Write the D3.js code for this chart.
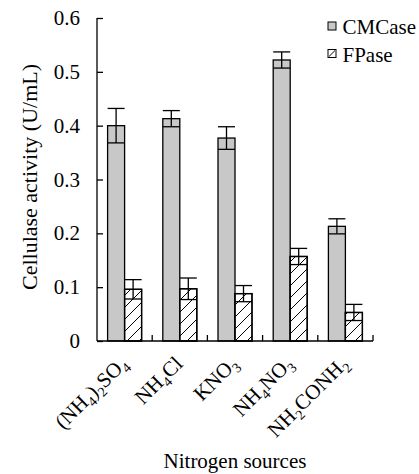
<!DOCTYPE html>
<html lang="en">
<head>
<meta charset="utf-8">
<title>Cellulase activity by nitrogen source</title>
<script src="https://d3js.org/d3.v7.min.js"></script>
<style>
  body { margin: 0; background: #fff; }
  text { font-family: "Liberation Serif", "Times New Roman", serif; fill: #000; }
</style>
</head>
<body>
<script>
// categories, label pieces: [text, isSubscript]
var sources = ["(NH4)2SO4", "NH4Cl", "KNO3", "NH4NO3", "NH2CONH2"];
var sourceLabels = [
  [["(NH", 0], ["4", 1], [")", 0], ["2", 1], ["SO", 0], ["4", 1]],
  [["NH", 0], ["4", 1], ["Cl", 0]],
  [["KNO", 0], ["3", 1]],
  [["NH", 0], ["4", 1], ["NO", 0], ["3", 1]],
  [["NH", 0], ["2", 1], ["CONH", 0], ["2", 1]]
];
var seriesNames = ["CMCase", "FPase"];
var cmcase = [0.400, 0.413, 0.377, 0.522, 0.213];
var cmcaseErr = [0.032, 0.015, 0.021, 0.015, 0.014];
var fpase = [0.096, 0.097, 0.088, 0.157, 0.053];
var fpaseErr = [0.018, 0.020, 0.015, 0.015, 0.015];
var yTicks = [0, 0.1, 0.2, 0.3, 0.4, 0.5, 0.6];

var width = 419, height = 474;
var plotLeft = 97, plotRight = 373, plotTop = 18, plotBottom = 341;
var fontSize = 21;

var svg = d3.select("body").append("svg")
  .attr("width", width)
  .attr("height", height);

var defs = svg.append("defs");
defs.append("pattern")
  .attr("id", "hatch")
  .attr("patternUnits", "userSpaceOnUse")
  .attr("width", 12).attr("height", 12)
  .append("path")
  .attr("d", "M0,12 L12,0 M-3,3 L3,-3 M9,15 L15,9")
  .attr("stroke", "#000")
  .attr("stroke-width", 1);
defs.append("pattern")
  .attr("id", "hatchSmall")
  .attr("patternUnits", "userSpaceOnUse")
  .attr("width", 8).attr("height", 8)
  .append("path")
  .attr("d", "M1,7 L7,1")
  .attr("stroke", "#000")
  .attr("stroke-width", 1);

var x = d3.scaleBand().domain(sources).range([plotLeft, plotRight]);
var barW = 17;
var x1 = d3.scaleBand().domain(seriesNames).range([0, 2 * barW]);
var y = d3.scaleLinear().domain([0, 0.6]).range([plotBottom, plotTop]);

var fills = { "CMCase": "#c8c8c8", "FPase": "url(#hatch)" };

var data = [];
sources.forEach(function(s, i) {
  data.push({ src: s, series: "CMCase", v: cmcase[i], e: cmcaseErr[i] });
  data.push({ src: s, series: "FPase", v: fpase[i], e: fpaseErr[i] });
});

function barX(d) {
  return x(d.src) + (x.bandwidth() - 2 * barW) / 2 + x1(d.series);
}

// bars (white under the hatch)
svg.selectAll(".bar")
  .data(data)
  .enter().append("rect")
  .attr("class", "bar")
  .attr("x", barX)
  .attr("y", function(d) { return y(d.v); })
  .attr("width", barW)
  .attr("height", function(d) { return y(0) - y(d.v); })
  .attr("fill", function(d) { return d.series == "FPase" ? "#fff" : fills[d.series]; })
  .attr("stroke", "#000")
  .attr("stroke-width", 1.3);
svg.selectAll(".hatchbar")
  .data(data.filter(function(d) { return d.series == "FPase"; }))
  .enter().append("rect")
  .attr("x", barX)
  .attr("y", function(d) { return y(d.v); })
  .attr("width", barW)
  .attr("height", function(d) { return y(0) - y(d.v); })
  .attr("fill", "url(#hatch)")
  .attr("stroke", "#000")
  .attr("stroke-width", 1.3);

// error bars
var err = svg.selectAll(".err")
  .data(data)
  .enter().append("g")
  .attr("class", "err")
  .attr("stroke", "#000")
  .attr("stroke-width", 1.3);
err.append("line")
  .attr("x1", function(d) { return barX(d) + barW / 2; })
  .attr("x2", function(d) { return barX(d) + barW / 2; })
  .attr("y1", function(d) { return y(d.v - d.e); })
  .attr("y2", function(d) { return y(d.v + d.e); });
err.append("line")
  .attr("x1", function(d) { return barX(d); })
  .attr("x2", function(d) { return barX(d) + barW; })
  .attr("y1", function(d) { return y(d.v + d.e); })
  .attr("y2", function(d) { return y(d.v + d.e); });
err.append("line")
  .attr("x1", function(d) { return barX(d); })
  .attr("x2", function(d) { return barX(d) + barW; })
  .attr("y1", function(d) { return y(d.v - d.e); })
  .attr("y2", function(d) { return y(d.v - d.e); });

// y axis, ticks point inward
var yAxis = svg.append("g")
  .attr("transform", "translate(" + plotLeft + ",0)")
  .call(d3.axisRight(y).tickValues(yTicks).tickSize(6).tickFormat(""));
yAxis.select(".domain").attr("d", "M0," + plotTop + "V" + plotBottom);
yAxis.selectAll("line, path").attr("stroke", "#000").attr("stroke-width", 1.3);

svg.selectAll(".ylab")
  .data(yTicks)
  .enter().append("text")
  .attr("x", plotLeft - 17)
  .attr("y", function(d) { return y(d); })
  .attr("dy", "0.34em")
  .attr("text-anchor", "end")
  .style("font-size", fontSize + "px")
  .text(function(d) { return d == 0 ? "0" : d3.format(".1f")(d); });

// x axis with ticks at band edges, pointing up
var edges = sources.map(function(s) { return x(s); }).concat([plotRight]);
var xAxis = svg.append("g");
xAxis.append("line")
  .attr("x1", plotLeft).attr("x2", plotRight)
  .attr("y1", plotBottom).attr("y2", plotBottom)
  .attr("stroke", "#000").attr("stroke-width", 1.3);
xAxis.selectAll(".xt")
  .data(edges.slice(1))
  .enter().append("line")
  .attr("x1", function(d) { return d; })
  .attr("x2", function(d) { return d; })
  .attr("y1", plotBottom).attr("y2", plotBottom - 6)
  .attr("stroke", "#000").attr("stroke-width", 1.3);

// category labels with subscripts
var xl = svg.selectAll(".xlab")
  .data(sources)
  .enter().append("text")
  .attr("class", "xlab")
  .attr("text-anchor", "end")
  .style("font-size", fontSize + "px")
  .attr("transform", function(d) {
    return "translate(" + (x(d) + x.bandwidth() / 2 + 4) + "," + (plotBottom + 24) + ") rotate(-45)";
  });
xl.each(function(d, i) {
  var t = d3.select(this);
  var shift = 0;
  sourceLabels[i].forEach(function(p) {
    var dy = p[1] ? 5 - shift : 0 - shift;
    shift += dy;
    t.append("tspan")
      .attr("dy", dy)
      .style("font-size", p[1] ? "14px" : fontSize + "px")
      .text(p[0]);
  });
});

// axis titles
svg.append("text")
  .attr("transform", "translate(37,177) rotate(-90)")
  .attr("text-anchor", "middle")
  .style("font-size", "22px")
  .text("Cellulase activity (U/mL)");

svg.append("text")
  .attr("x", (plotLeft + plotRight) / 2)
  .attr("y", 468)
  .attr("text-anchor", "middle")
  .style("font-size", fontSize + "px")
  .text("Nitrogen sources");

// legend
var legend = svg.selectAll(".legend")
  .data(seriesNames)
  .enter().append("g")
  .attr("transform", function(d, i) { return "translate(328," + (22 + i * 27.5) + ")"; });
legend.append("rect")
  .attr("width", 8).attr("height", 8)
  .attr("fill", function(d) { return d == "FPase" ? "url(#hatchSmall)" : fills[d]; })
  .attr("stroke", "#000")
  .attr("stroke-width", 1);
legend.append("text")
  .attr("x", 14.5)
  .attr("y", 12)
  .style("font-size", fontSize + "px")
  .text(function(d) { return d; });
</script>
</body>
</html>
